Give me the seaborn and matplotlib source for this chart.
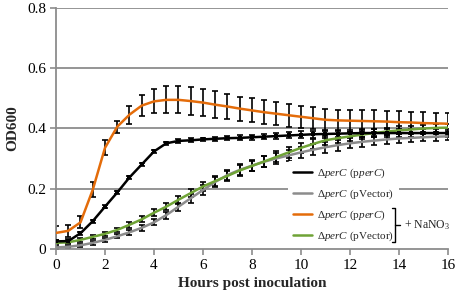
import numpy as np
import pandas as pd
import matplotlib
matplotlib.use("Agg")
import matplotlib.pyplot as plt
import seaborn as sns
from matplotlib.lines import Line2D

hours = [i * 0.5 for i in range(33)]

pperC = [0.025, 0.026, 0.052, 0.092, 0.14, 0.187, 0.237, 0.28, 0.323, 0.35, 0.358, 0.36,
         0.363, 0.365, 0.367, 0.368, 0.37, 0.372, 0.374, 0.376, 0.378, 0.38, 0.381, 0.382,
         0.383, 0.384, 0.384, 0.384, 0.384, 0.384, 0.384, 0.384, 0.384]
pperC_err = [0.006, 0.006, 0.005, 0.005, 0.005, 0.005, 0.005, 0.005, 0.005, 0.005, 0.006, 0.006,
             0.006, 0.007, 0.007, 0.008, 0.008, 0.009, 0.01, 0.01, 0.012, 0.012, 0.012, 0.012,
             0.012, 0.012, 0.012, 0.012, 0.012, 0.012, 0.012, 0.012, 0.012]

pVector = [0.005, 0.007, 0.012, 0.02, 0.03, 0.042, 0.055, 0.07, 0.088, 0.112, 0.14, 0.168,
           0.195, 0.222, 0.245, 0.262, 0.276, 0.289, 0.3, 0.31, 0.32, 0.329, 0.337, 0.344,
           0.35, 0.355, 0.359, 0.363, 0.366, 0.368, 0.37, 0.372, 0.373]
pVector_err = [0.004, 0.004, 0.005, 0.006, 0.006, 0.007, 0.008, 0.009, 0.01, 0.012, 0.013, 0.015,
               0.016, 0.017, 0.018, 0.018, 0.018, 0.018, 0.018, 0.018, 0.018, 0.018, 0.018, 0.018,
               0.016, 0.016, 0.015, 0.015, 0.014, 0.014, 0.013, 0.013, 0.012]

pperC_N = [0.053, 0.06, 0.088, 0.196, 0.335, 0.405, 0.445, 0.475, 0.489, 0.494, 0.494, 0.49,
           0.485, 0.478, 0.472, 0.465, 0.459, 0.453, 0.448, 0.443, 0.438, 0.433, 0.428, 0.426,
           0.425, 0.424, 0.423, 0.422, 0.42, 0.419, 0.417, 0.416, 0.415]
pperC_N_err = [0.022, 0.02, 0.02, 0.025, 0.025, 0.02, 0.03, 0.035, 0.04, 0.045, 0.045, 0.045,
               0.045, 0.045, 0.042, 0.04, 0.04, 0.04, 0.038, 0.038, 0.036, 0.036, 0.036, 0.036,
               0.036, 0.036, 0.036, 0.036, 0.036, 0.036, 0.036, 0.036, 0.036]

pVector_N = [0.02, 0.022, 0.03, 0.04, 0.05, 0.063, 0.08, 0.098, 0.12, 0.14, 0.163, 0.185,
             0.207, 0.225, 0.242, 0.26, 0.275, 0.29, 0.305, 0.32, 0.335, 0.348, 0.36, 0.367,
             0.373, 0.379, 0.384, 0.389, 0.393, 0.396, 0.399, 0.401, 0.402]
pVector_N_err = [0.004, 0.005, 0.006, 0.006, 0.007, 0.008, 0.009, 0.01, 0.011, 0.012, 0.013, 0.014,
                 0.015, 0.016, 0.017, 0.018, 0.018, 0.018, 0.018, 0.018, 0.017, 0.016, 0.015, 0.015,
                 0.014, 0.014, 0.013, 0.013, 0.013, 0.012, 0.012, 0.012, 0.012]

x_ticks = [0, 2, 4, 6, 8, 10, 12, 14, 16]
y_ticks = [0, 0.2, 0.4, 0.6, 0.8]
y_tick_labels = ["0", "0.2", "0.4", "0.6", "0.8"]

series_names = ["pperC", "pVector", "pperC_N", "pVector_N"]
colors = {"pperC": "#000000", "pVector": "#8c8c8c",
          "pperC_N": "#e46c0a", "pVector_N": "#6fa336"}
labels = [r"Δ$\mathit{perC}$ (p$\mathit{perC}$)",
          r"Δ$\mathit{perC}$ (pVector)",
          r"Δ$\mathit{perC}$ (p$\mathit{perC}$)",
          r"Δ$\mathit{perC}$ (pVector)"]

values = {"pperC": pperC, "pVector": pVector, "pperC_N": pperC_N, "pVector_N": pVector_N}
errors = {"pperC": pperC_err, "pVector": pVector_err, "pperC_N": pperC_N_err, "pVector_N": pVector_N_err}

df = pd.concat([pd.DataFrame({"hours": hours, "od": values[s], "err": errors[s], "series": s})
                for s in series_names], ignore_index=True)

sns.set_theme(style="white")
plt.rcParams["font.family"] = ["Liberation Serif", "DejaVu Serif"]
plt.rcParams["mathtext.fontset"] = "custom"
plt.rcParams["mathtext.rm"] = "Liberation Serif"
plt.rcParams["mathtext.it"] = "Liberation Serif:italic"

fig = plt.figure(figsize=(4.59, 3.01), dpi=100)
ax = fig.add_axes([0.122, 0.173, 0.854, 0.802])

grid_c = "#8c8c8c"
for yv in y_ticks[1:]:
    ax.axhline(yv, color=grid_c, lw=1.3, zorder=0)

# error bars (black)
for s in series_names:
    sub = df[df.series == s]
    ax.errorbar(sub.hours, sub.od, yerr=sub.err, fmt="none", ecolor="black",
                elinewidth=1.2, capsize=2.5, capthick=1.2, zorder=2)

order = ["pVector", "pVector_N", "pperC", "pperC_N"]
for s in order:
    sub = df[df.series == s]
    sns.lineplot(data=sub, x="hours", y="od", ax=ax, color=colors[s], lw=1.8,
                 marker="s" if s == "pperC" else None, markersize=3.0,
                 markeredgewidth=0, legend=False, zorder=3, estimator=None)

ax.set_xlim(0, 16)
ax.set_ylim(0, 0.8)
ax.set_xticks(x_ticks)
ax.set_xticklabels([str(t) for t in x_ticks])
ax.set_yticks(y_ticks)
ax.set_yticklabels(y_tick_labels)
ax.tick_params(axis="both", labelsize=11, colors="black", length=4, width=1.2,
               direction="out", pad=3)
ax.tick_params(axis="x", color=grid_c, bottom=True)
ax.tick_params(axis="y", color=grid_c, left=True)
for side in ["top", "right"]:
    ax.spines[side].set_visible(False)
for side in ["left", "bottom"]:
    ax.spines[side].set_color(grid_c)
    ax.spines[side].set_linewidth(1.3)

ax.set_xlabel("Hours post inoculation", fontsize=11, fontweight="bold", labelpad=4)
ax.set_ylabel("OD600", fontsize=11, fontweight="bold", labelpad=6)

handles = [Line2D([0], [0], color=colors[s], lw=1.8) for s in series_names]
leg = ax.legend(handles, labels, loc="lower left", bbox_to_anchor=(0.585, -0.005),
                frameon=True, fontsize=8.0, handlelength=1.75, handletextpad=0.45,
                labelspacing=0.68, borderaxespad=0.2, borderpad=0.45)
leg.get_frame().set_facecolor("white")
leg.get_frame().set_edgecolor("none")
leg.get_frame().set_alpha(1)
leg.set_zorder(5)

# bracket for the NaNO3 group
tr = ax.transAxes
bx = 0.866
ax.plot([bx - 0.01, bx, bx, bx - 0.01], [0.169, 0.169, 0.029, 0.029], color="black",
        lw=1.0, transform=tr, zorder=6, clip_on=False)
ax.plot([bx, bx + 0.012], [0.099, 0.099], color="black", lw=1.0, transform=tr,
        zorder=6, clip_on=False)
ax.text(bx + 0.022, 0.099, r"+ NaNO$_3$", transform=tr, fontsize=8.5, va="center",
        ha="left", zorder=6)

fig.savefig("out.png", dpi=100)
